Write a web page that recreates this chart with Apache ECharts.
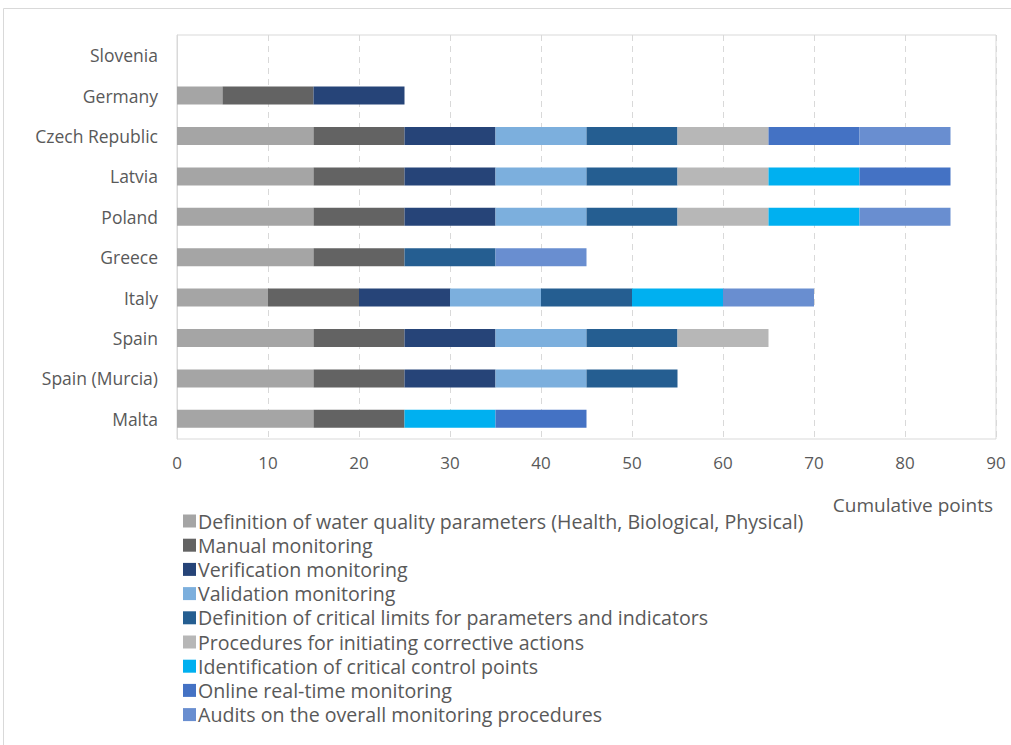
<!DOCTYPE html>
<html>
<head>
<meta charset="utf-8">
<script src="https://cdn.jsdelivr.net/npm/echarts@6/dist/echarts.min.js"></script>
<style>
html,body{margin:0;padding:0;background:#fff;}
#chart{width:1011px;height:745px;}
</style>
</head>
<body>
<div id="chart"></div>
<script>
// Categories listed bottom to top
const categories = ["Malta", "Spain (Murcia)", "Spain", "Italy", "Greece", "Poland", "Latvia", "Czech Republic", "Germany", "Slovenia"];
const seriesNames = [
  "Definition of water quality parameters (Health, Biological, Physical)",
  "Manual monitoring",
  "Verification monitoring",
  "Validation monitoring",
  "Definition of critical limits for parameters and indicators",
  "Procedures for initiating corrective actions",
  "Identification of critical control points",
  "Online real-time monitoring",
  "Audits on the overall monitoring procedures"
];
const definitionParams = [15, 15, 15, 10, 15, 15, 15, 15, 5, 0];
const manualMonitoring = [10, 10, 10, 10, 10, 10, 10, 10, 10, 0];
const verificationMonitoring = [0, 10, 10, 10, 0, 10, 10, 10, 10, 0];
const validationMonitoring = [0, 10, 10, 10, 0, 10, 10, 10, 0, 0];
const criticalLimits = [0, 10, 10, 10, 10, 10, 10, 10, 0, 0];
const correctiveActions = [0, 0, 10, 0, 0, 10, 10, 10, 0, 0];
const criticalControlPoints = [10, 0, 0, 10, 0, 10, 10, 0, 0, 0];
const onlineMonitoring = [10, 0, 0, 0, 0, 0, 10, 10, 0, 0];
const audits = [0, 0, 0, 10, 10, 10, 0, 10, 0, 0];
const xTicks = [0, 10, 20, 30, 40, 50, 60, 70, 80, 90];

const seriesData = [definitionParams, manualMonitoring, verificationMonitoring, validationMonitoring,
  criticalLimits, correctiveActions, criticalControlPoints, onlineMonitoring, audits];
const colors = ["#A5A5A5", "#636363", "#264478", "#7CAFDD", "#255E91", "#B7B7B7", "#00B0F0", "#4472C4", "#698ED0"];

const FONT = "'Open Sans', sans-serif";
const chart = echarts.init(document.getElementById('chart'), null, {renderer: 'svg'});
chart.setOption({
  animation: false,
  color: colors,
  graphic: [{
    type: 'rect',
    shape: {x: 3.5, y: 8.5, width: 1030, height: 760},
    style: {fill: 'none', stroke: '#d9d9d9', lineWidth: 1},
    silent: true
  }],
  grid: {left: 177, right: 15, top: 35, bottom: 306, show: true, borderColor: '#d9d9d9', borderWidth: 1, containLabel: false},
  legend: {
    orient: 'vertical',
    left: 178,
    top: 506,
    height: 239,
    itemWidth: 13,
    itemHeight: 13,
    itemGap: 4.2,
    icon: 'rect',
    data: seriesNames,
    textStyle: {fontFamily: FONT, fontSize: 19.6, lineHeight: 19.6, color: '#595959', padding: [0, 0, 0, -3]}
  },
  xAxis: {
    type: 'value',
    min: 0,
    max: 90,
    interval: 10,
    name: 'Cumulative points',
    nameLocation: 'end',
    nameGap: -3,
    nameTextStyle: {fontFamily: FONT, fontSize: 19, color: '#595959', align: 'right', verticalAlign: 'top', padding: [56, 0, 0, 0]},
    axisLine: {show: false},
    axisTick: {show: false},
    axisLabel: {fontFamily: FONT, fontSize: 17, color: '#595959', margin: 15,
      formatter: v => xTicks.includes(v) ? String(v) : ''},
    splitLine: {show: true, lineStyle: {color: '#d9d9d9', type: [6, 5], width: 1}}
  },
  yAxis: {
    type: 'category',
    data: categories,
    axisLine: {show: true, lineStyle: {color: '#d9d9d9'}},
    axisTick: {show: false},
    axisLabel: {fontFamily: FONT, fontSize: 17.5, color: '#595959', margin: 19}
  },
  series: seriesNames.map((name, i) => ({
    name: name,
    type: 'bar',
    stack: 'total',
    barWidth: 18,
    data: seriesData[i].map(v => v === 0 ? null : v),
    itemStyle: {color: colors[i]}
  }))
});
</script>
</body>
</html>
